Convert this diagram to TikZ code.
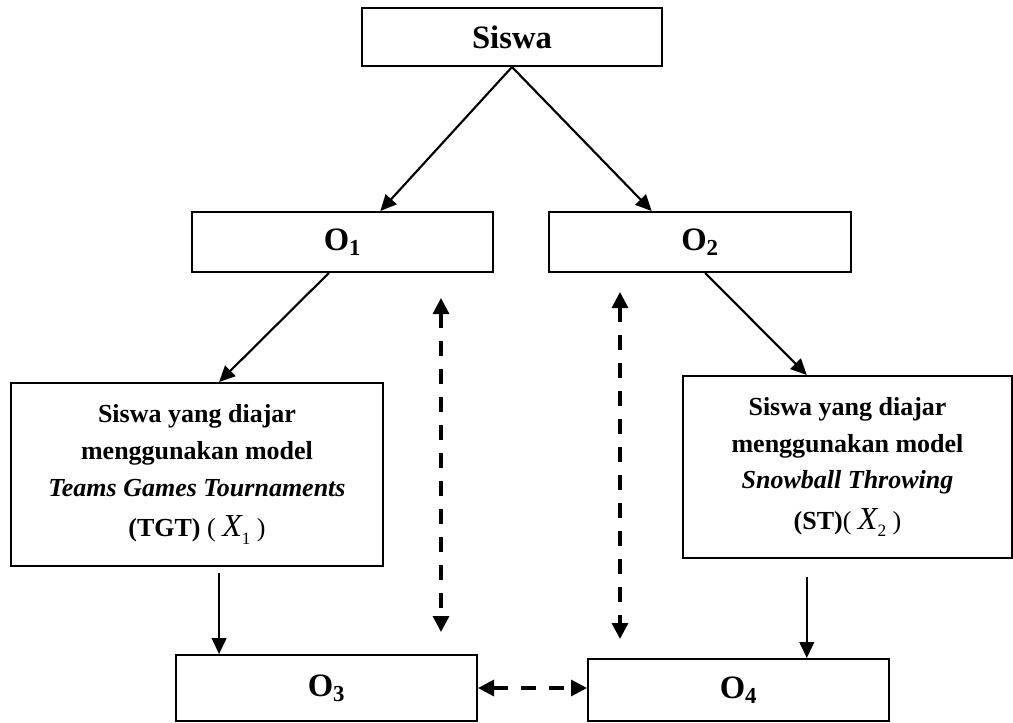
\documentclass[tikz,border=0pt]{standalone}
\usepackage{fontspec}
\setmainfont{Liberation Serif}
\usetikzlibrary{arrows.meta,calc}
\newcommand{\myX}[1]{{\mdseries\itshape\fontsize{24}{24}\selectfont X}{\mdseries\raisebox{-0.6ex}{\fontsize{13}{13}\selectfont #1}}}
\begin{document}
\begin{tikzpicture}[x=0.75pt,y=-0.75pt,
  box/.style={draw,line width=1.5pt,inner sep=0pt,font=\bfseries\fontsize{24.5}{29}\selectfont},
  textbox/.style={draw,line width=1.5pt,inner sep=0pt,align=center,font=\bfseries\fontsize{19.5}{27.5}\selectfont},
  arr/.style={line width=1.6pt,-{Triangle[length=12pt,width=11pt]}},
  darr/.style={line width=2.4pt,dash pattern=on 11pt off 10pt,{Triangle[length=12pt,width=12pt]}-{Triangle[length=12pt,width=12pt]}}
]
\useasboundingbox (0,0) rectangle (1013,722);

\node[box,minimum width=225pt,minimum height=43.5pt] (siswa) at (512,37) {Siswa};
\node[box,minimum width=225.75pt,minimum height=45pt] (o1) at (342.5,242) {O\textsubscript{1}};
\node[box,minimum width=226.5pt,minimum height=45pt] (o2) at (700,242) {O\textsubscript{2}};
\node[textbox,minimum width=279pt,minimum height=137.25pt] (lb) at (197,474.5)
  {Siswa yang diajar\\ menggunakan model\\ \textit{Teams Games Tournaments}\\[3pt] (TGT) {\mdseries( \myX{1} )}};
\node[textbox,minimum width=246.75pt,minimum height=136.5pt] (rb) at (847.5,467)
  {Siswa yang diajar\\ menggunakan model\\ \textit{Snowball Throwing}\\[3pt] (ST){\mdseries( \myX{2} )}};
\node[box,minimum width=225.75pt,minimum height=49.5pt] (o3) at (326.5,688) {O\textsubscript{3}};
\node[box,minimum width=225.75pt,minimum height=46.5pt] (o4) at (738.5,690) {O\textsubscript{4}};

\draw[arr] (siswa.south) -- ($(o1.north west)!0.625!(o1.north east)$);
\draw[arr] (siswa.south) -- ($(o2.north west)!0.341!(o2.north east)$);
\draw[arr] ($(o1.south west)!0.455!(o1.south east)$) -- ($(lb.north west)!0.559!(lb.north east)$);
\draw[arr] ($(o2.south west)!0.517!(o2.south east)$) -- ($(rb.north west)!0.377!(rb.north east)$);
\coordinate (lbs) at ($(lb.south west)!0.559!(lb.south east)$);
\coordinate (rbs) at ($(rb.south west)!0.377!(rb.south east)$);
\draw[arr,shorten <=4.5pt] (lbs) -- (lbs |- o3.north);
\draw[arr,shorten <=13.5pt] (rbs) -- (rbs |- o4.north);

\coordinate (d1t) at (441,298);
\coordinate (d1b) at (441,632);
\coordinate (d2t) at (620,292);
\coordinate (d2b) at (620,639);
\draw[darr] (d1t) -- (d1b);
\draw[darr] (d2t) -- (d2b);
\draw[darr] (o3.east) -- (o3.east -| o4.west);
\end{tikzpicture}
\end{document}
